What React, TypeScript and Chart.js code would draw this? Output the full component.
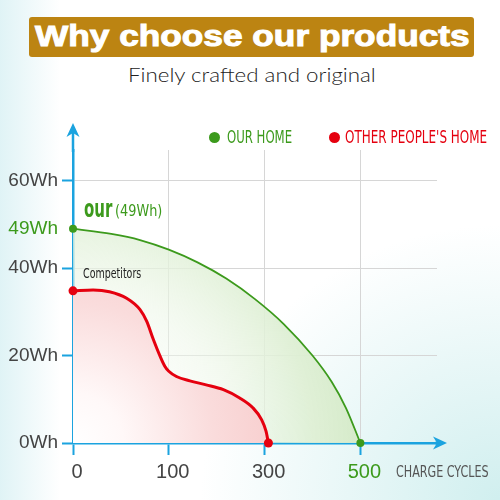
import React, { useEffect, useLayoutEffect, useRef, useState } from "react";
import { Chart, registerables } from "chart.js";

Chart.register(...registerables);

// ---------- data ----------
const CYCLE_POSITIONS = [0, 1, 2, 3];
const CYCLE_LABELS = ["0", "100", "300", "500"];
const WH_TICKS = [0, 20, 40, 49, 60];
const WH_LABELS = ["0Wh", "20Wh", "40Wh", "49Wh", "60Wh"];

const SERIES_NAMES = ["OUR HOME", "OTHER PEOPLE'S HOME"];

const OUR_X = [0, 0.4, 0.7, 1.0, 1.3, 1.6, 1.9, 2.2, 2.5, 2.7, 2.85, 3];
const OUR_Y = [49, 47.8, 46.4, 44.2, 41.3, 37.6, 32.9, 27.2, 20.0, 14.0, 8.0, 0];

const OTHER_X = [0, 0.21, 0.38, 0.56, 0.7, 0.77, 0.84, 0.91, 0.96, 1.0, 1.08, 1.22, 1.39, 1.57, 1.74, 1.88, 1.97, 2.015, 2.04];
const OTHER_Y = [34.8, 35.0, 34.6, 33.1, 30.5, 27.8, 23.6, 19.8, 17.5, 16.4, 15.2, 14.2, 13.3, 12.2, 10.3, 8.0, 5.3, 2.7, 0];

// ---------- styles ----------
const AXIS = "#1ba3df";
const GRID = "#d6d6d6";
const GREEN = "#3c9a1c";
const RED = "#e5000f";
const TXT = "#444444";
const SANS = "'Liberation Sans', Arial, sans-serif";
const NARROW = "'Liberation Sans Narrow', 'DejaVu Sans Condensed', 'Liberation Sans', sans-serif";

type LabelProps = {
  text: string;
  x: number;
  baseline: number;
  size: number;
  family: string;
  weight?: number;
  color: string;
  width?: number;
  ascent?: number;
  stroke?: number;
};

function Label({ text, x, baseline, size, family, weight = 400, color, width, ascent = 0.8465, stroke = 0 }: LabelProps) {
  const ref = useRef<HTMLSpanElement>(null);
  const [scale, setScale] = useState(1);
  useLayoutEffect(() => {
    const measure = () => {
      if (ref.current && width) {
        const w = ref.current.offsetWidth;
        if (w > 0) setScale(width / w);
      }
    };
    measure();
    const fonts: any = (document as any).fonts;
    if (fonts && fonts.ready) fonts.ready.then(measure);
  }, [text, width, size, family]);
  const style: any = {
    position: "absolute",
    left: x,
    top: baseline - ascent * size,
    fontSize: size,
    lineHeight: `${size}px`,
    fontFamily: family,
    fontWeight: weight,
    color,
    whiteSpace: "nowrap",
  };
  if (stroke) style.WebkitTextStroke = `${stroke}px ${color}`;
  return (
    <div style={style}>
      <span ref={ref} style={{ display: "inline-block", transform: `scaleX(${scale})`, transformOrigin: "0 0" }}>
        {text}
      </span>
    </div>
  );
}

const endsOnly = (r: number) => (c: any) => {
  const n = c.dataset.data.length;
  return c.dataIndex === 0 || c.dataIndex === n - 1 ? r : 0;
};

const arrowPlugin = {
  id: "axisArrows",
  afterDraw(chart: any) {
    const { ctx, chartArea: a } = chart;
    ctx.save();
    ctx.strokeStyle = AXIS;
    ctx.fillStyle = AXIS;
    ctx.lineWidth = 2.5;
    const y0 = a.bottom;
    const xTip = a.right + 10;
    ctx.beginPath();
    ctx.moveTo(a.right - 2, y0);
    ctx.lineTo(xTip - 8, y0);
    ctx.stroke();
    ctx.beginPath();
    ctx.moveTo(xTip, y0);
    ctx.lineTo(xTip - 14, y0 - 6.5);
    ctx.lineTo(xTip - 10, y0);
    ctx.lineTo(xTip - 14, y0 + 6.5);
    ctx.closePath();
    ctx.fill();
    const x0 = a.left;
    const yTip = a.top - 27;
    ctx.beginPath();
    ctx.moveTo(x0, a.top + 2);
    ctx.lineTo(x0, yTip + 8);
    ctx.stroke();
    ctx.beginPath();
    ctx.moveTo(x0, yTip);
    ctx.lineTo(x0 - 6.5, yTip + 14);
    ctx.lineTo(x0, yTip + 10);
    ctx.lineTo(x0 + 6.5, yTip + 14);
    ctx.closePath();
    ctx.fill();
    ctx.restore();
  },
};

function ChartCanvas() {
  const canvasRef = useRef<HTMLCanvasElement>(null);
  useEffect(() => {
    if (!canvasRef.current) return;
    const redFill = (c: any) => {
      const { chart } = c;
      const a = chart.chartArea;
      if (!a) return "rgba(0,0,0,0)";
      const g = chart.ctx.createRadialGradient(a.left, a.bottom, 0, a.left, a.bottom, 200);
      g.addColorStop(0, "#ffffff");
      g.addColorStop(0.25, "#fff8f8");
      g.addColorStop(0.7, "#fadcdc");
      g.addColorStop(1, "#f8cfcf");
      return g;
    };
    const greenFill = (c: any) => {
      const { chart } = c;
      const a = chart.chartArea;
      if (!a) return "rgba(0,0,0,0)";
      const g = chart.ctx.createRadialGradient(a.left, a.bottom, 0, a.left, a.bottom, 300);
      g.addColorStop(0, "rgba(255,255,255,0)");
      g.addColorStop(0.5, "rgba(238,247,233,0.55)");
      g.addColorStop(0.8, "rgba(222,239,212,0.95)");
      g.addColorStop(1, "rgba(210,233,198,1)");
      return g;
    };
    const chart = new Chart(canvasRef.current, {
      type: "line",
      data: {
        datasets: [
          {
            label: SERIES_NAMES[1],
            data: OTHER_X.map((x, i) => ({ x, y: OTHER_Y[i] })),
            borderColor: RED,
            borderWidth: 3,
            backgroundColor: redFill as any,
            fill: "origin",
            cubicInterpolationMode: "monotone",
            pointRadius: endsOnly(4.5) as any,
            pointBackgroundColor: RED,
            pointBorderWidth: 0,
            clip: false as any,
            order: 1,
          },
          {
            label: SERIES_NAMES[0],
            data: OUR_X.map((x, i) => ({ x, y: OUR_Y[i] })),
            borderColor: GREEN,
            borderWidth: 1.8,
            backgroundColor: greenFill as any,
            fill: "origin",
            cubicInterpolationMode: "monotone",
            pointRadius: endsOnly(4) as any,
            pointBackgroundColor: GREEN,
            pointBorderWidth: 0,
            clip: false as any,
            order: 2,
          },
        ],
      },
      options: {
        responsive: false,
        animation: false,
        devicePixelRatio: 1,
        layout: { padding: { top: 150, right: 63, left: 0, bottom: 0 } },
        plugins: {
          legend: { display: false },
          tooltip: { enabled: false },
        },
        scales: {
          x: {
            type: "linear",
            min: 0,
            max: 3.8,
            afterBuildTicks: (s: any) => {
              s.ticks = CYCLE_POSITIONS.map((v) => ({ value: v }));
            },
            afterFit: (s: any) => {
              s.height = 57;
            },
            grid: {
              color: (c: any) => (c.tick && c.tick.value === 0 ? "rgba(0,0,0,0)" : GRID),
              lineWidth: 1,
              tickColor: AXIS,
              tickWidth: 2,
              tickLength: 12,
              drawTicks: true,
            },
            border: { color: AXIS, width: 2.5 },
            ticks: {
              autoSkip: false,
              maxRotation: 0,
              padding: 5,
              labelOffset: 4,
              font: { family: SANS, size: 20 },
              color: (c: any) => (c.tick && c.tick.value === 3 ? GREEN : TXT),
              callback: (v: any) => {
                const i = CYCLE_POSITIONS.indexOf(Number(v));
                return i >= 0 ? CYCLE_LABELS[i] : "";
              },
            },
          },
          y: {
            type: "linear",
            min: 0,
            max: 67,
            afterBuildTicks: (s: any) => {
              s.ticks = WH_TICKS.map((v) => ({ value: v }));
            },
            afterFit: (s: any) => {
              s.width = 73;
            },
            grid: {
              color: (c: any) =>
                c.tick && (c.tick.value === 0 || c.tick.value === 49) ? "rgba(0,0,0,0)" : GRID,
              lineWidth: 1,
              tickColor: (c: any) => (c.tick && c.tick.value === 49 ? "rgba(0,0,0,0)" : AXIS),
              tickWidth: 2,
              tickLength: 11,
              drawTicks: true,
            },
            border: { color: AXIS, width: 2.5 },
            ticks: {
              autoSkip: false,
              padding: 4,
              font: { family: SANS, size: 19 },
              color: (c: any) => (c.tick && c.tick.value === 49 ? GREEN : TXT),
              callback: (v: any) => {
                const i = WH_TICKS.indexOf(Number(v));
                return i >= 0 ? WH_LABELS[i] : "";
              },
            },
          },
        },
      },
      plugins: [arrowPlugin],
    });
    return () => chart.destroy();
  }, []);
  return (
    <canvas
      ref={canvasRef}
      width={500}
      height={500}
      style={{ position: "absolute", left: 0, top: 0, width: 500, height: 500 }}
    />
  );
}

export default function App() {
  return (
    <div
      style={{
        position: "absolute",
        left: 0,
        top: 0,
        width: 500,
        height: 500,
        overflow: "hidden",
        background:
          "linear-gradient(90deg, rgba(218,241,244,0.85) 0px, rgba(255,255,255,0) 60px), radial-gradient(ellipse 60% 55% at 100% 100%, rgba(206,238,238,0.95) 0%, rgba(255,255,255,0) 100%), #ffffff",
      }}
    >
      <div
        style={{
          position: "absolute",
          left: 29,
          top: 17,
          width: 445,
          height: 40,
          background: "#bc8412",
          borderRadius: 3,
        }}
      />
      <Label text="Why choose our products" x={35} baseline={46.7} size={29} family={SANS} weight={700} color="#ffffff" width={435} stroke={1} />
      <Label text="Finely crafted and original" x={127.7} baseline={81.7} size={19} family="Lato, 'Open Sans', sans-serif" weight={300} color="#222222" width={248} ascent={0.887} />

      <ChartCanvas />

      <div style={{ position: "absolute", left: 208.5, top: 131.8, width: 11, height: 11, borderRadius: "50%", background: GREEN }} />
      <Label text={SERIES_NAMES[0]} x={227} baseline={143.3} size={18} family={NARROW} color={GREEN} width={65} />
      <div style={{ position: "absolute", left: 328.5, top: 131.5, width: 11, height: 11, borderRadius: "50%", background: RED }} />
      <Label text={SERIES_NAMES[1]} x={345} baseline={143.3} size={18} family={NARROW} color={RED} width={142} />

      <Label text="our" x={84} baseline={217.5} size={25} family={NARROW} weight={700} color={GREEN} width={28.7} />
      <Label text="(49Wh)" x={115} baseline={216.7} size={15} family={NARROW} color={GREEN} width={47.7} />
      <Label text="Competitors" x={83} baseline={278} size={14} family={NARROW} color="#222222" width={58} />
      <Label text="CHARGE CYCLES" x={396} baseline={478} size={16} family={NARROW} color="#555555" width={93} />
    </div>
  );
}
